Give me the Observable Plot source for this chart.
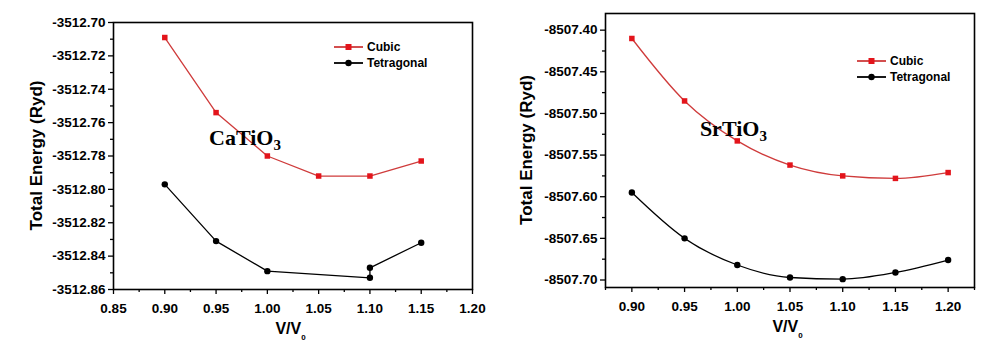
<!DOCTYPE html>
<html>
<head>
<meta charset="utf-8">
<script src="https://cdn.jsdelivr.net/npm/d3@7"></script>
<script src="https://cdn.jsdelivr.net/npm/@observablehq/plot@0.6"></script>
<style>
  body { margin: 0; background: white; }
  #wrap { position: relative; width: 1002px; height: 352px; overflow: hidden; }
  .panel { position: absolute; top: 0; }
</style>
</head>
<body>
<div id="wrap"></div>
<script>
// ---- data ----
const seriesNames = ["Cubic", "Tetragonal"];

const caCubicX = [0.90, 0.95, 1.00, 1.05, 1.10, 1.15];
const caCubicY = [-3512.709, -3512.754, -3512.780, -3512.792, -3512.792, -3512.783];
const caTetraX = [0.90, 0.95, 1.00, 1.10, 1.10, 1.15];
const caTetraY = [-3512.797, -3512.831, -3512.849, -3512.853, -3512.847, -3512.832];

const srX = [0.90, 0.95, 1.00, 1.05, 1.10, 1.15, 1.20];
const srCubicY = [-8507.410, -8507.485, -8507.533, -8507.562, -8507.575, -8507.578, -8507.571];
const srTetraY = [-8507.595, -8507.650, -8507.682, -8507.697, -8507.699, -8507.691, -8507.676];

const caXTicks = [0.85, 0.90, 0.95, 1.00, 1.05, 1.10, 1.15, 1.20];
const caYTicks = [-3512.86, -3512.84, -3512.82, -3512.80, -3512.78, -3512.76, -3512.74, -3512.72, -3512.70];
const srXTicks = [0.90, 0.95, 1.00, 1.05, 1.10, 1.15, 1.20];
const srYTicks = [-8507.70, -8507.65, -8507.60, -8507.55, -8507.50, -8507.45, -8507.40];

const RED_LINE = "#cf3b3b", RED_FILL = "#e3141b";

function mid(ticks) {
  const out = [];
  for (let i = 0; i < ticks.length - 1; i++) out.push((ticks[i] + ticks[i + 1]) / 2);
  return out;
}

function panel(opts) {
  const cubic = opts.cx.map((x, i) => ({x, y: opts.cy[i]}));
  const tetra = opts.tx.map((x, i) => ({x, y: opts.ty[i]}));
  const fmt = d => d.toFixed(2);
  const plot = Plot.plot({
    width: opts.width, height: 352,
    marginLeft: opts.ml, marginRight: opts.mr, marginTop: opts.mt, marginBottom: opts.mb,
    x: {domain: opts.xd},
    y: {domain: opts.yd},
    style: {fontFamily: "'Liberation Sans', Arial, sans-serif", fontSize: "13.5px", fontWeight: "bold", color: "black", background: "white"},
    marks: [
      Plot.axisX({ticks: opts.xt, tickSize: 5, tickPadding: 9, tickFormat: fmt, label: null, strokeWidth: 1.3}),
      Plot.axisX(opts.xm, {tickSize: 3, tickFormat: () => "", label: null, strokeWidth: 1.3}),
      Plot.axisY({ticks: opts.yt, tickSize: 5, tickPadding: 3, tickFormat: fmt, label: null, strokeWidth: 1.3}),
      Plot.axisY(opts.ym, {tickSize: 3, tickFormat: () => "", label: null, strokeWidth: 1.3}),
      Plot.line(cubic, {x: "x", y: "y", stroke: RED_LINE, strokeWidth: 1.3, curve: opts.curve}),
      Plot.line(tetra, {x: "x", y: "y", stroke: "black", strokeWidth: 1.3, curve: opts.curve}),
      Plot.dot(cubic, {x: "x", y: "y", symbol: "square", r: 3.1, fill: RED_FILL, stroke: "none"}),
      Plot.dot(tetra, {x: "x", y: "y", symbol: "circle", r: 3.2, fill: "black", stroke: "none"}),
      Plot.frame({stroke: "black", strokeWidth: 1.6})
    ]
  });
  const svg = d3.select(plot);
  const xs = plot.scale("x"), ys = plot.scale("y");
  const fl = opts.ml, fr = opts.width - opts.mr, ft = opts.mt, fb = 352 - opts.mb;

  // y axis title
  svg.append("text")
    .attr("transform", `translate(${fl - opts.yLabelOffset},${(ft + fb) / 2}) rotate(-90)`)
    .attr("text-anchor", "middle")
    .attr("dominant-baseline", "middle")
    .style("font", "bold 17px 'Liberation Sans', Arial, sans-serif")
    .text("Total Energy (Ryd)");

  // x axis title V/V0
  const xt = svg.append("text")
    .attr("x", (fl + fr) / 2 - 2)
    .attr("y", fb + 45)
    .attr("text-anchor", "middle")
    .style("font", "bold 16px 'Liberation Sans', Arial, sans-serif");
  xt.append("tspan").text("V/V");
  xt.append("tspan").attr("dy", 6).style("font-size", "8px").text("0");

  // compound annotation
  const an = svg.append("text")
    .attr("x", xs.apply(opts.annX))
    .attr("y", ys.apply(opts.annY))
    .attr("text-anchor", "start")
    .style("font", "bold 22px 'Liberation Serif', 'Times New Roman', serif");
  an.append("tspan").text(opts.ann);
  an.append("tspan").attr("dy", 5).style("font-size", "15px").text("3");

  // legend
  const lg = svg.append("g").attr("transform", `translate(${opts.legX},${opts.legY})`);
  const items = [
    {name: seriesNames[0], stroke: RED_LINE, fill: RED_FILL, sym: "square"},
    {name: seriesNames[1], stroke: "black", fill: "black", sym: "circle"}
  ];
  items.forEach((it, i) => {
    const g = lg.append("g").attr("transform", `translate(0,${i * 16})`);
    g.append("line").attr("x1", 0).attr("x2", 29).attr("y1", 0).attr("y2", 0)
      .attr("stroke", it.stroke).attr("stroke-width", 1.8);
    if (it.sym === "square") g.append("rect").attr("x", 11.5).attr("y", -3).attr("width", 6).attr("height", 6).attr("fill", it.fill);
    else g.append("circle").attr("cx", 14.5).attr("cy", 0).attr("r", 3.2).attr("fill", it.fill);
    g.append("text").attr("x", 33).attr("y", 0).attr("dy", "0.35em")
      .attr("text-anchor", "start")
      .style("font", "bold 12px 'Liberation Sans', Arial, sans-serif").text(it.name);
  });
  return plot;
}

const left = panel({
  width: 500, ml: 113, mr: 28, mt: 22, mb: 63,
  xd: [0.85, 1.20], yd: [-3512.86, -3512.70],
  xt: caXTicks, xm: mid(caXTicks), yt: caYTicks, ym: mid(caYTicks),
  cx: caCubicX, cy: caCubicY, tx: caTetraX, ty: caTetraY,
  curve: "linear", yLabelOffset: 75,
  ann: "CaTiO", annX: 0.9436, annY: -3512.7737,
  legX: 334, legY: 47
});
const right = panel({
  width: 502, ml: 105, mr: 28, mt: 13, mb: 65,
  xd: [0.875, 1.225], yd: [-8507.709, -8507.38],
  xt: srXTicks, xm: [0.875].concat(mid(srXTicks), [1.225]), yt: srYTicks, ym: mid(srYTicks),
  cx: srX, cy: srCubicY, tx: srX, ty: srTetraY,
  curve: "monotone-x", yLabelOffset: 77,
  ann: "SrTiO", annX: 0.965, annY: -8507.528,
  legX: 357, legY: 61
});

const wrap = document.getElementById("wrap");
left.classList.add("panel"); left.style.left = "0px";
right.classList.add("panel"); right.style.left = "500px";
wrap.appendChild(left);
wrap.appendChild(right);
</script>
</body>
</html>
